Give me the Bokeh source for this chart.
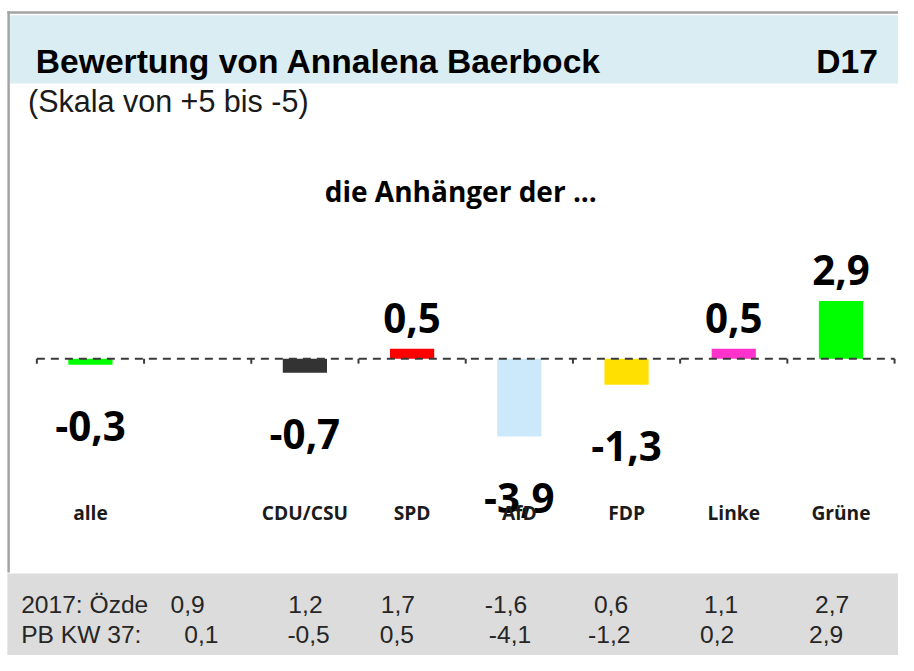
from bokeh.plotting import figure
from bokeh.models import Range1d, Label, ColumnDataSource
from bokeh.core.properties import value
from bokeh.embed import file_html
from bokeh.resources import INLINE

# ---------------- data ----------------
title_text = "Bewertung von Annalena Baerbock"
code_text = "D17"
subtitle_text = "(Skala von +5 bis -5)"
group_heading = "die Anhänger der ..."

parties = ["alle", "CDU/CSU", "SPD", "AfD", "FDP", "Linke", "Grüne"]
ratings = [-0.3, -0.7, 0.5, -3.9, -1.3, 0.5, 2.9]
bar_colors = ["#00ff00", "#333333", "#ff0000", "#cce9fb", "#ffe000", "#ff33cc", "#00ff00"]

row1_label = "2017: Özde"
row1_values = [0.9, 1.2, 1.7, -1.6, 0.6, 1.1, 2.7]
row2_label = "PB KW 37:"
row2_values = [0.1, -0.5, 0.5, -4.1, -1.2, 0.2, 2.9]

# ---------------- layout ----------------
REF_W, REF_H = 914, 671          # reference design size
W, H = 898, 655                  # figure size (fits window)
FX, FY = W / REF_W, H / REF_H
SLOT_PX = 109.125                # design pixels per category slot
UNIT_PX = 20.4                   # design pixels per rating unit
X0_PX = 37                       # design x of first slot boundary
Y0_PX = 367                      # design y of zero line
N_SLOTS = 8
slot_of_party = [0, 2, 3, 4, 5, 6, 7]   # second slot left empty


def dx(px):
    return (px - X0_PX) / SLOT_PX


def dy(py):
    return (Y0_PX - py) / UNIT_PX


def fs(px):
    return f"{px * FX:.1f}px"


def fmt(v):
    return f"{v:.1f}".replace(".", ",")


p = figure(width=W, height=H, output_backend="svg", toolbar_location=None,
           x_range=Range1d(dx(0), dx(REF_W)), y_range=Range1d(dy(REF_H), dy(0)),
           min_border=0, x_axis_location=None, y_axis_location=None,
           outline_line_color=None, background_fill_color="white",
           border_fill_color="white")
p.grid.visible = False

# frame / bands
p.quad(left=dx(9), right=dx(REF_W), top=dy(15), bottom=dy(85),
       fill_color="#daedf3", line_color=None)
p.quad(left=dx(7), right=dx(REF_W), top=dy(587), bottom=dy(REF_H),
       fill_color="#dcdcdc", line_color=None)
p.quad(left=dx(7), right=dx(REF_W), top=dy(11), bottom=dy(13.5),
       fill_color="#a3a3a3", line_color=None)
p.quad(left=dx(7), right=dx(9.5), top=dy(11), bottom=dy(586),
       fill_color="#a3a3a3", line_color=None)

# bars
xs = [s + 0.5 for s in slot_of_party]
src = ColumnDataSource(dict(
    x=xs, top=ratings, color=bar_colors, party=parties,
    label=[fmt(v) for v in ratings],
    off=[-31 if v > 0 else 61.5 for v in ratings],
    cat_y=[dy(524)] * len(parties),
))
p.vbar(x="x", top="top", bottom=0, width=45 / SLOT_PX, fill_color="color",
       line_color=None, source=src)

# dashed zero line with hanging ticks
p.segment(x0=[0], y0=[0], x1=[N_SLOTS], y1=[0], line_color="#3a3a3a",
          line_width=2, line_dash="8 6")
bounds = list(range(N_SLOTS + 1))
p.segment(x0=bounds, y0=[0] * len(bounds), x1=bounds,
          y1=[-5 / UNIT_PX] * len(bounds), line_color="#3a3a3a", line_width=2)

# value labels
p.text(x="x", y="top", text="label", source=src, y_offset="off",
       text_font=value("Open Sans"), text_font_style="bold",
       text_font_size=fs(41), text_align="center",
       text_baseline="alphabetic", text_color="#000000")

# category labels
p.text(x="x", y="cat_y", text="party", source=src,
       text_font=value("Open Sans"), text_font_style="bold",
       text_font_size=fs(19.5), text_align="center",
       text_baseline="alphabetic", text_color="#1b1b1b")

# titles
p.add_layout(Label(x=dx(36), y=dy(62), text=title_text,
                   text_font="Liberation Sans", text_font_style="bold",
                   text_font_size=fs(34.2), text_baseline="alphabetic",
                   text_color="#000000"))
p.add_layout(Label(x=dx(893), y=dy(62), text=code_text,
                   text_font="Liberation Sans", text_font_style="bold",
                   text_font_size=fs(34.2), text_baseline="alphabetic",
                   text_align="right", text_color="#000000"))
p.add_layout(Label(x=dx(28), y=dy(103), text=subtitle_text,
                   text_font="Liberation Sans", text_font_size=fs(31),
                   text_baseline="alphabetic", text_color="#1a1a1a"))
p.add_layout(Label(x=dx(468.5), y=dy(195), text=group_heading,
                   text_font="Open Sans", text_font_style="bold",
                   text_font_size=fs(28.5), text_baseline="alphabetic",
                   text_align="center", text_color="#000000"))

# footer rows
row1_x = [173, 293, 387, 493, 604, 716, 829]
row2_x = [187, 292, 386, 497, 598, 712, 823]
for lbl, vals, xpix, base in [(row1_label, row1_values, row1_x, 619),
                              (row2_label, row2_values, row2_x, 649)]:
    p.add_layout(Label(x=dx(21), y=dy(base), text=lbl,
                       text_font="Liberation Sans", text_font_size=fs(25),
                       text_baseline="alphabetic", text_color="#262626"))
    p.text(x=[dx(v) for v in xpix], y=[dy(base)] * len(vals),
           text=[fmt(v) for v in vals],
           text_font=value("Liberation Sans"), text_font_size=fs(25),
           text_align="left", text_baseline="alphabetic",
           text_color="#262626")

open("out.html", "w").write(file_html(p, INLINE))
